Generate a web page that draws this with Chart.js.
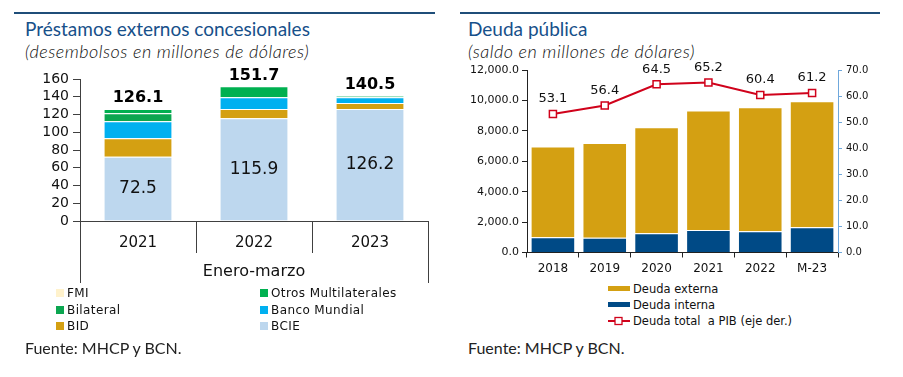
<!DOCTYPE html>
<html>
<head>
<meta charset="utf-8">
<script src="https://cdn.jsdelivr.net/npm/chart.js@4"></script>
<style>
  body { margin: 0; width: 903px; height: 377px; background: #fff; position: relative; overflow: hidden; font-family: "DejaVu Sans", sans-serif; }
  .rule { position: absolute; top: 12px; height: 2px; background: #1F4E79; }
  .title { position: absolute; top: 17px; font-family: Lato, sans-serif; font-size: 19px; color: #17508A; }
  .sub { position: absolute; top: 40px; font-family: Lato, sans-serif; font-style: italic; font-weight: 300; font-size: 18px; letter-spacing: 0.5px; color: #111; }
  .src { position: absolute; top: 338px; font-family: Lato, sans-serif; font-size: 16px; color: #222; }
  .wrap { position: absolute; }
  .leg { position: absolute; font-size: 12px; color: #111; letter-spacing: 0.4px; white-space: nowrap; }
  .leg span.sw { display: inline-block; width: 8px; height: 8px; margin-right: 3px; vertical-align: 0px; }
  .leg2 { position: absolute; font-size: 11.5px; color: #111; white-space: nowrap; }
  .leg2 .ln { display: inline-block; width: 22px; height: 5px; margin-right: 3px; vertical-align: 2px; }
</style>
</head>
<body>
<div class="rule" style="left:14px;width:421px"></div>
<div class="rule" style="left:460px;width:420px"></div>
<div class="title" style="left:25px">Préstamos externos concesionales</div>
<div class="sub" style="left:25px">(desembolsos en millones de dólares)</div>
<div class="title" style="left:468px">Deuda pública</div>
<div class="sub" style="left:468px">(saldo en millones de dólares)</div>

<div class="wrap" style="left:0;top:60px;width:450px;height:230px"><canvas id="c1"></canvas></div>
<div class="wrap" style="left:460px;top:60px;width:443px;height:220px"><canvas id="c2"></canvas></div>

<div id="leg1"></div>
<div id="leg2"></div>

<div class="src" style="left:25px">Fuente: MHCP y BCN.</div>
<div class="src" style="left:468px">Fuente: MHCP y BCN.</div>

<script>
// --- Préstamos externos concesionales (enero-marzo) ---
const years1 = ['2021', '2022', '2023'];
const bcie = [72.5, 115.9, 126.2];
const bid = [20.7, 10.3, 6.8];
const bancoMundial = [19.1, 13.2, 6.4];
const bilateral = [9.0, 0.0, 0.4];
const otrosMulti = [4.8, 12.3, 0.7];
const fmi = [0, 0, 0];
const yTicks1 = [0, 20, 40, 60, 80, 100, 120, 140, 160];

// --- Deuda pública ---
const years2 = ['2018', '2019', '2020', '2021', '2022', 'M-23'];
const deudaInterna = [1010, 965, 1271, 1487, 1402, 1663];
const deudaExterna = [5955, 6240, 6957, 7850, 8150, 8280];
const deudaPib = [53.1, 56.4, 64.5, 65.2, 60.4, 61.2];

const font = 'DejaVu Sans';

const series1 = [
  { label: 'BCIE', data: bcie, color: '#BDD7EE' },
  { label: 'BID', data: bid, color: '#D4A012' },
  { label: 'Banco Mundial', data: bancoMundial, color: '#00B0F0' },
  { label: 'Bilateral', data: bilateral, color: '#0BA650' },
  { label: 'Otros Multilaterales', data: otrosMulti, color: '#00B050' },
  { label: 'FMI', data: fmi, color: '#FFF2CC' }
];

const groupPlugin = {
  id: 'groupAxis',
  afterDraw(chart) {
    const ctx = chart.ctx;
    const xs = chart.scales.x, ys = chart.scales.y;
    const area = chart.chartArea;
    const n = years1.length;
    ctx.save();
    ctx.strokeStyle = '#404040';
    ctx.lineWidth = 1;
    for (let i = 0; i <= n; i++) {
      let x;
      if (i === 0) x = area.left;
      else if (i === n) x = area.right;
      else x = (xs.getPixelForTick(i - 1) + xs.getPixelForTick(i)) / 2;
      const len = (i === 0 || i === n) ? 62 : 32;
      ctx.beginPath();
      ctx.moveTo(Math.round(x) + 0.5, area.bottom);
      ctx.lineTo(Math.round(x) + 0.5, area.bottom + len);
      ctx.stroke();
    }
    ctx.fillStyle = '#111';
    ctx.font = '16px "' + font + '"';
    ctx.textAlign = 'center';
    ctx.textBaseline = 'middle';
    ctx.fillText('Enero-marzo', (area.left + area.right) / 2, area.bottom + 51);

    // totals and BCIE values
    for (let i = 0; i < n; i++) {
      let total = 0;
      series1.forEach(s => total += s.data[i]);
      const x = xs.getPixelForValue(i);
      ctx.font = 'bold 16px "' + font + '"';
      ctx.fillStyle = '#000';
      ctx.fillText(total.toFixed(1), x, ys.getPixelForValue(total) - 11);
      ctx.font = '17px "' + font + '"';
      ctx.fillStyle = '#111';
      ctx.fillText(bcie[i].toFixed(1), x, ys.getPixelForValue(bcie[i] / 2));
    }
    ctx.restore();
  }
};

new Chart(document.getElementById('c1'), {
  type: 'bar',
  data: {
    labels: years1,
    datasets: series1.map(s => ({
      label: s.label,
      data: s.data,
      backgroundColor: s.color,
      borderColor: 'rgba(255,255,255,0.7)',
      borderWidth: s.label === 'FMI' ? 0 : { top: 1, left: 0, right: 0, bottom: 0 },
      borderSkipped: false,
      barPercentage: 0.58,
      categoryPercentage: 1.0
    }))
  },
  options: {
    responsive: true,
    maintainAspectRatio: false,
    animation: false,
    layout: { padding: { top: 19, right: 22, left: 0, bottom: 0 } },
    plugins: { legend: { display: false }, tooltip: { enabled: false } },
    scales: {
      x: {
        stacked: true,
        grid: { display: false, drawTicks: false },
        border: { color: '#404040' },
        ticks: { color: '#111', font: { family: font, size: 15 }, padding: 13 },
        afterFit: s => { s.height = 69; }
      },
      y: {
        stacked: true,
        min: 0, max: 160,
        afterBuildTicks: s => { s.ticks = yTicks1.map(v => ({ value: v })); },
        grid: { drawOnChartArea: false, tickLength: 7, color: '#404040' },
        border: { color: '#404040' },
        ticks: { autoSkip: false, color: '#111', font: { family: font, size: 14 }, padding: 4 },
        afterFit: s => { s.width = 80; }
      }
    }
  },
  plugins: [groupPlugin]
});

// legend for left chart (two columns, Excel order)
const leg1 = document.getElementById('leg1');
const legOrder = ['FMI', 'Otros Multilaterales', 'Bilateral', 'Banco Mundial', 'BID', 'BCIE'];
legOrder.forEach((name, k) => {
  const s = series1.find(d => d.label === name);
  const el = document.createElement('div');
  el.className = 'leg';
  el.style.left = (k % 2 === 0 ? 56 : 260) + 'px';
  el.style.top = (286 + Math.floor(k / 2) * 16.5) + 'px';
  el.innerHTML = '<span class="sw" style="background:' + s.color + '"></span>' + name;
  leg1.appendChild(el);
});

// --- right chart ---
const pointLabels = {
  id: 'pointLabels',
  afterDatasetsDraw(chart) {
    const ctx = chart.ctx;
    const meta = chart.getDatasetMeta(2);
    ctx.save();
    ctx.font = '13px "' + font + '"';
    ctx.fillStyle = '#111';
    ctx.textAlign = 'center';
    ctx.textBaseline = 'middle';
    meta.data.forEach((pt, i) => {
      ctx.fillText(deudaPib[i].toFixed(1), pt.x, pt.y - 15);
    });
    ctx.restore();
  }
};

new Chart(document.getElementById('c2'), {
  type: 'bar',
  data: {
    labels: years2,
    datasets: [
      { label: 'Deuda interna', data: deudaInterna, backgroundColor: '#004A86', borderColor: '#fff', borderWidth: 1,
        barPercentage: 0.86, categoryPercentage: 1.0, yAxisID: 'y', order: 1 },
      { label: 'Deuda externa', data: deudaExterna, backgroundColor: '#D4A012', borderColor: '#fff', borderWidth: 1,
        barPercentage: 0.86, categoryPercentage: 1.0, yAxisID: 'y', order: 1 },
      { type: 'line', label: 'Deuda total  a PIB (eje der.)', data: deudaPib, yAxisID: 'y1', order: 0,
        borderColor: '#D0021B', borderWidth: 2, pointStyle: 'rect', pointRadius: 5,
        pointBackgroundColor: '#fff', pointBorderColor: '#D0021B', pointBorderWidth: 1.5, tension: 0 }
    ]
  },
  options: {
    responsive: true,
    maintainAspectRatio: false,
    animation: false,
    layout: { padding: { top: 8, right: 0, left: 0, bottom: 0 } },
    plugins: { legend: { display: false }, tooltip: { enabled: false } },
    scales: {
      x: {
        stacked: true,
        grid: { offset: true, drawOnChartArea: false, tickLength: 5, color: '#222' },
        border: { color: '#222' },
        ticks: { color: '#111', font: { family: font, size: 12 }, padding: 4 },
        afterFit: s => { s.height = 27.5; }
      },
      y: {
        stacked: true,
        position: 'left',
        min: 0, max: 12000,
        ticks: { stepSize: 2000, color: '#111', font: { family: font, size: 11 }, padding: 3,
          callback: v => v.toLocaleString('en-US', { minimumFractionDigits: 1, maximumFractionDigits: 1 }) },
        grid: { drawOnChartArea: false, tickLength: 5, color: '#222' },
        border: { color: '#222' },
        afterFit: s => { s.width = 67; }
      },
      y1: {
        position: 'right',
        min: 0, max: 70,
        ticks: { stepSize: 10, color: '#111', font: { family: font, size: 10 }, padding: 4,
          callback: v => v.toFixed(1) },
        grid: { drawOnChartArea: false, tickLength: 4, color: '#6FA8DC' },
        border: { color: '#6FA8DC' },
        afterFit: s => { s.width = 65; }
      }
    }
  },
  plugins: [pointLabels]
});

// legend for right chart
const leg2 = document.getElementById('leg2');
[
  { label: 'Deuda externa', html: '<span class="ln" style="background:#D4A012"></span>' },
  { label: 'Deuda interna', html: '<span class="ln" style="background:#004A86"></span>' },
  { label: 'Deuda total  a PIB (eje der.)', html: '<svg width="22" height="10" style="margin-right:3px;vertical-align:-1px"><line x1="0" y1="5" x2="22" y2="5" stroke="#D0021B" stroke-width="2"/><rect x="7" y="1.5" width="7" height="7" fill="#fff" stroke="#D0021B" stroke-width="1.3"/></svg>' }
].forEach((item, k) => {
  const el = document.createElement('div');
  el.className = 'leg2';
  el.style.left = '608px';
  el.style.top = (282 + k * 16) + 'px';
  el.innerHTML = item.html + item.label.replace(/  /g, ' &nbsp;');
  leg2.appendChild(el);
});
</script>
</body>
</html>
